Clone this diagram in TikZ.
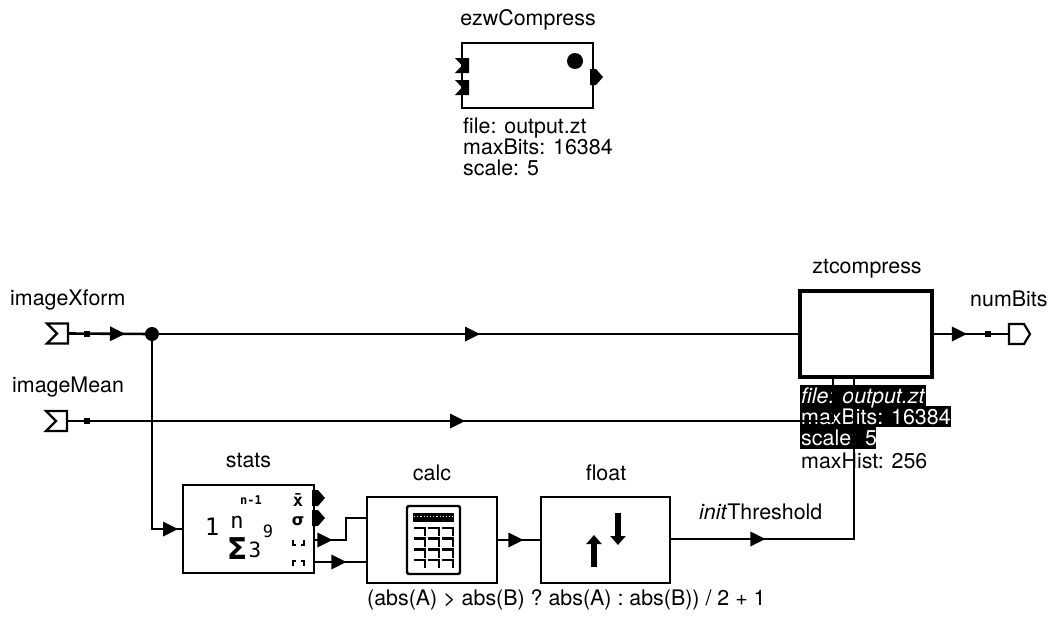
\documentclass[tikz,border=0pt]{standalone}
\usepackage{fontspec}
\setmainfont{TeX Gyre Heros}
\newfontfamily\symfont{DejaVu Sans}
\newfontfamily\monofont{DejaVu Sans Mono}[Scale=1]
\usetikzlibrary{arrows.meta,decorations.markings}
\tikzset{
  lbl/.style={inner sep=0pt,anchor=base,font=\fontsize{21.4}{21.4}\selectfont},
  lblw/.style={inner sep=0pt,anchor=base west,font=\fontsize{21.4}{21.4}\selectfont},
  blockbox/.style={draw,line width=2.8pt,minimum width=#1,inner sep=0pt,fill=white},
  wire/.style={line width=2.6pt},
  tri at/.style={postaction={decorate},decoration={markings,mark=at position #1 with {\arrow[line width=0pt]{Triangle[length=15pt,width=15pt]}}}},
  portpoly/.style={draw,line width=2.2pt,fill=white,line join=miter},
  hl/.style={fill=black,draw=none},
  glyph/.style={inner sep=0pt,font=\monofont\bfseries},
}
\begin{document}
\begin{tikzpicture}[x=1pt,y=-1pt]
\useasboundingbox (0,0) rectangle (1052,616);
% top block
\node[lbl] (tlabel) at (528,25) {ezwCompress};
\node[blockbox=131pt,minimum height=65pt] (ezw) at (527.5,75.5) {};
\fill (455,58)--(469,58)--(469,73)--(455,73)--(462,65.5)--cycle;
\fill (455,80)--(469,80)--(469,95)--(455,95)--(462,87.5)--cycle;
\fill (590,69)--(596,69)--(603,77)--(596,85)--(590,85)--cycle;
\fill (575,61) circle (8pt);
\node[lblw] (p1) at (463,133) {file: output.zt};
\node[lblw] (p2) at (463,154) {maxBits: 16384};
\node[lblw] (p3) at (463,175) {scale: 5};
% labels
\node[lblw] (lx) at (10,305) {imageXform};
\node[lblw] (lm) at (12,392) {imageMean};
\node[lbl] (lzt) at (867,273) {ztcompress};
\node[lblw] (ln) at (970,306) {numBits};
\node[lbl] (lstats) at (248.5,467) {stats};
\node[lbl] (lcalc) at (432,480) {calc};
\node[lbl] (lfloat) at (606,480) {float};
\node[lblw] (lit) at (699,519) {\textit{init}Threshold};
\node[lblw] (lexpr) at (367,605) {(abs(A) > abs(B) ? abs(A) : abs(B)) / 2 + 1};
% blocks
\node[blockbox=132pt,minimum height=86pt,line width=3.6pt] (zt) at (866,334) {};
\node[blockbox=131pt,minimum height=88pt] (stats) at (248.5,529) {};
\node[blockbox=130pt,minimum height=86pt] (calc) at (432,540) {};
\node[blockbox=129pt,minimum height=86pt] (float) at (605.5,540) {};
% zt parameters
\fill[hl] (800,385) rectangle (926,406);
\fill[hl] (800,406) rectangle (951,427);
\fill[hl] (800,427) rectangle (876,449);
\node[lblw,text=white] (z1) at (801,403) {\textit{file: output.zt}};
\node[lblw,text=white] (z2) at (801,424) {maxBits: 16384};
\node[lblw,text=white] (z3) at (801,445) {scale: 5};
\node[lblw] (z4) at (801,468) {maxHist: 256};
% ports
\coordinate (inX) at (68,333.5);
\coordinate (inM) at (67,421);
\coordinate (outN) at (1009,334);
\draw[portpoly] (inX)++(0,-10)--++(-21,0)--++(10,10)--++(-10,10)--++(21,0)--cycle;
\draw[portpoly] (inM)++(0,-10)--++(-21,0)--++(10,10)--++(-10,10)--++(21,0)--cycle;
\draw[portpoly] (outN)++(0,-10)--++(15,0)--++(6,10)--++(-6,10)--++(-15,0)--cycle;
% junction and wire ends
\coordinate (jct) at (152,334);
\coordinate (bendM) at (833,421);
\coordinate (bendI) at (854,539);
\coordinate (b1) at (346,540);
\coordinate (b2) at (346,518);
% wires
\draw[wire,tri at=57pt] (inX) -- (jct);
\draw[wire,tri at=328pt] (jct) -- (jct -| zt.west);
\draw[wire,tri at=398pt] (inM) -- (bendM) -- (bendM |- zt.south);
\draw[wire,tri at=221pt] (jct) |- (stats.west);
\draw[wire,tri at=33pt] (zt.east |- outN) -- (outN);
\fill (87,334) +(-3,-3) rectangle +(3,3);
\fill (87,421) +(-3,-3) rectangle +(3,3);
\fill (988,334) +(-3,-3) rectangle +(3,3);
\fill (jct) circle (7pt);
% stats outputs
\fill (312,490)--(318,490)--(325,498)--(318,506)--(312,506)--cycle;
\fill (312,510)--(318,510)--(325,518)--(318,526)--(312,526)--cycle;
\draw[wire,tri at=17pt] (stats.east |- b1) -- (b1) -- (b2) -- (b2 -| calc.west);
\draw[wire,tri at=31pt] (stats.east |- 0,562) -- (calc.west |- 0,562);
\draw[wire,tri at=25pt] (calc.east) -- (float.west);
\draw[wire,tri at=94pt] (float.east |- bendI) -- (bendI) -- (bendI |- zt.south);
% stats icon
\node[glyph,font=\monofont\bfseries\fontsize{12}{12}\selectfont] (g0) at (251,500) {n-1};
\node[glyph,font=\monofont\fontsize{24}{24}\selectfont] (g1) at (212,527) {1};
\node[glyph,font=\monofont\fontsize{22}{22}\selectfont] (g2) at (237,522) {n};
\node[glyph,font=\monofont\fontsize{17}{17}\selectfont] (g3) at (268,531) {9};
\node[inner sep=0pt,font=\symfont\bfseries\fontsize{30}{30}\selectfont] (g4) at (237,549) {Σ};
\node[glyph,font=\monofont\fontsize{21}{21}\selectfont] (g5) at (255,550) {3};
\node[glyph,font=\monofont\bfseries\fontsize{17}{17}\selectfont] (g6) at (298,500) {x̄};
\node[glyph,font=\symfont\bfseries\fontsize{16}{16}\selectfont] (g7) at (298,521) {σ};
\draw[line width=2.2pt] (293,540)--(293,545)--(296,545) (301,545)--(304,545)--(304,540);
\draw[line width=2.2pt] (293,566)--(293,561)--(296,561) (301,561)--(304,561)--(304,566);
% calc icon
\draw[line width=2.4pt,rounded corners=2pt] (407,506) rectangle (460,574);
\fill (413,513) rectangle (454,522);
\draw[white,line width=1.2pt,dotted] (414,516.5)--(453,516.5);
\foreach \r in {528,538.5,549.5,560}{
  \foreach \c in {413.5,427.5,441.5}{
    \draw[line width=2.4pt] (\c,\r)--(\c+11.5,\r)--(\c+11.5,\r+8);
  }
}
% float icon
\draw[line width=5.5pt,-{Triangle[length=9pt,width=15pt]}] (594,567)--(594,535);
\draw[line width=5.5pt,-{Triangle[length=9pt,width=15pt]}] (618,513)--(618,545);
\end{tikzpicture}
\end{document}
